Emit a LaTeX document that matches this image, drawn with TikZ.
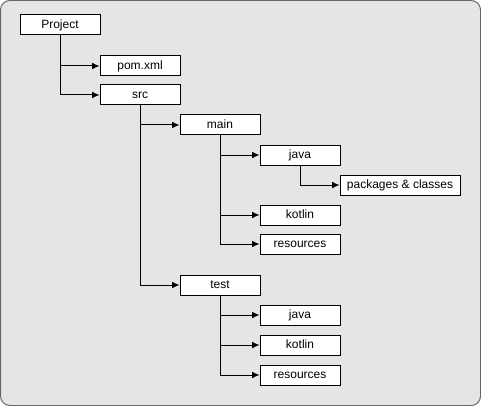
\documentclass[tikz,border=0pt]{standalone}
\usepackage{fontspec}
\setmainfont{Liberation Sans}
\usetikzlibrary{arrows.meta}

\tikzset{
	dir/.style={draw=black, fill=white, line width=0.75pt, minimum width=60pt, minimum height=15pt, inner sep=0pt, text height=6.5pt, text depth=1.6pt, font=\fontsize{9}{10}\selectfont},
	wide/.style={dir, minimum width=90pt},
	branch/.style={-{Latex[length=5.5pt,width=5pt]}, line width=0.75pt}
}

\begin{document}
\begin{tikzpicture}[x=0.75pt, y=-0.75pt]

	\draw[draw=black!60, fill=black!10, line width=0.75pt, rounded corners=7pt] (0.5,0.5) rectangle (480.5,405.5);

	\node[dir]	(project)	at (60,25)	{Project};
	\node[dir]	(pom)	at (140,66)	{pom.xml};
	\node[dir]	(src)	at (140,95)	{src};
	\node[dir]	(main)	at (220,125)	{main};
	\node[dir]	(mjava)	at (300,155)	{java};
	\node[wide]	(classes)	at (400,185)	{packages \& classes};
	\node[dir]	(mkotlin)	at (300,215)	{kotlin};
	\node[dir]	(mres)	at (300,244)	{resources};
	\node[dir]	(test)	at (220,285)	{test};
	\node[dir]	(tjava)	at (300,315)	{java};
	\node[dir]	(tkotlin)	at (300,345)	{kotlin};
	\node[dir]	(tres)	at (300,375)	{resources};

	\draw[branch]	(project.south) |- (pom.west);
	\draw[branch]	(project.south) |- (src.west);
	\draw[branch]	(src.south) |- (main.west);
	\draw[branch]	(src.south) |- (test.west);
	\draw[branch]	(main.south) |- (mjava.west);
	\draw[branch]	(main.south) |- (mkotlin.west);
	\draw[branch]	(main.south) |- (mres.west);
	\draw[branch]	(mjava.south) |- (classes.west);
	\draw[branch]	(test.south) |- (tjava.west);
	\draw[branch]	(test.south) |- (tkotlin.west);
	\draw[branch]	(test.south) |- (tres.west);
\end{tikzpicture}
\end{document}
